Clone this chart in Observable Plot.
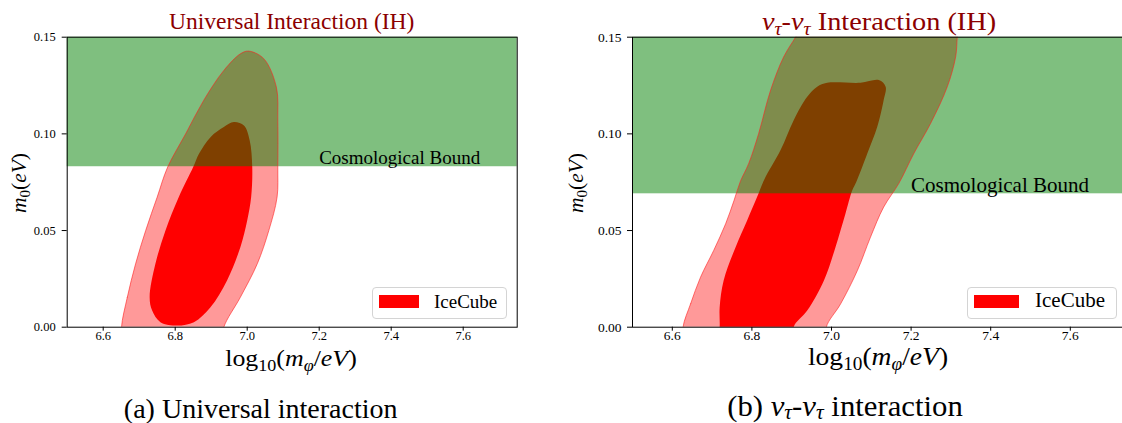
<!DOCTYPE html>
<html><head><meta charset="utf-8">
<script src="https://cdn.jsdelivr.net/npm/d3@7"></script>
<script src="https://cdn.jsdelivr.net/npm/@observablehq/plot@0.6"></script>
<style>
html,body{margin:0;padding:0;background:#fff;}
#wrap{position:relative;width:1122px;height:423px;overflow:hidden;font-family:"Liberation Serif",serif;color:#000;}
#wrap svg{position:absolute;top:0;max-width:none;}
.t{position:absolute;white-space:nowrap;line-height:1;}
.t sub{font-size:0.7em;vertical-align:-0.28em;line-height:0;}
.t.cap sub{vertical-align:-0.17em;}
.t i{font-style:italic;}
.leg{position:absolute;box-sizing:border-box;border:1px solid #d4d4d4;border-radius:4px;background:rgba(255,255,255,0.85);}
.patch{position:absolute;background:#ff0000;}
</style></head><body><div id="wrap"></div>
<script>
// ---- axes ----
const xDomain = [6.5, 7.75];
const yDomain = [0, 0.15];
const xTicks = [6.6, 6.8, 7.0, 7.2, 7.4, 7.6];
const yTicks = [0.00, 0.05, 0.10, 0.15];
// ---- cosmological bounds (m0 upper limit) ----
const boundUniversal = 0.083;
const boundTau = 0.069;
const boundLabel = "Cosmological Bound";
const boundLabelX = 7.2;
// ---- (a) Universal interaction: outer (light) region ----
const uniOuterX = [6.651, 6.667, 6.690, 6.718, 6.750, 6.779, 6.829, 6.879, 6.935, 6.981, 7.004, 7.046, 7.081, 7.085, 7.085, 7.083, 7.060, 7.028, 6.981, 6.935, 6.93, 6.655];
const uniOuterY = [0.000, 0.0155, 0.0328, 0.0500, 0.0673, 0.0828, 0.1000, 0.1173, 0.1328, 0.1414, 0.1428, 0.1389, 0.1242, 0.1069, 0.0828, 0.0673, 0.0500, 0.0328, 0.0155, 0.000, -0.008, -0.008];
// ---- (a) Universal interaction: inner (dark) region ----
const uniInnerX = [6.806, 6.759, 6.736, 6.729, 6.745, 6.773, 6.810, 6.850, 6.866, 6.898, 6.935, 6.963, 6.991, 7.007, 7.014, 7.011, 7.000, 6.981, 6.944, 6.898, 6.852];
const uniInnerY = [0.0009, 0.0026, 0.0086, 0.0155, 0.0328, 0.0500, 0.0673, 0.0828, 0.0897, 0.0983, 0.1035, 0.1061, 0.1043, 0.0966, 0.0828, 0.0673, 0.0552, 0.0414, 0.0242, 0.0103, 0.0026];
// ---- (b) nu_tau-nu_tau interaction: outer region ----
const tauOuterX = [6.627, 6.646, 6.671, 6.704, 6.734, 6.755, 6.771, 6.792, 6.817, 6.847, 6.880, 6.910, 6.93, 7.12, 7.32, 7.316, 7.312, 7.291, 7.249, 7.207, 7.169, 7.131, 7.098, 7.065, 7.023, 6.987, 6.99, 6.63];
const tauOuterY = [0.000, 0.0121, 0.0259, 0.0397, 0.0535, 0.0655, 0.0754, 0.0847, 0.1002, 0.1226, 0.1399, 0.1502, 0.158, 0.168, 0.158, 0.1502, 0.1399, 0.1244, 0.1054, 0.0899, 0.0743, 0.0621, 0.0466, 0.0293, 0.0121, 0.000, -0.008, -0.008];
// ---- (b) nu_tau-nu_tau interaction: inner region ----
const tauInnerX = [6.719, 6.719, 6.729, 6.759, 6.788, 6.813, 6.830, 6.872, 6.905, 6.939, 6.964, 6.989, 7.073, 7.119, 7.136, 7.131, 7.115, 7.090, 7.062, 7.052, 7.035, 7.010, 6.981, 6.939, 6.905, 6.91, 6.715];
const tauInnerY = [0.000, 0.0103, 0.0242, 0.0414, 0.0552, 0.0673, 0.0759, 0.0916, 0.1071, 0.1192, 0.1244, 0.1264, 0.1264, 0.1278, 0.1244, 0.1174, 0.1037, 0.0899, 0.0750, 0.0707, 0.0587, 0.0414, 0.0242, 0.0086, 0.000, -0.008, -0.008];
// ---- legend ----
const legendLabel = "IceCube";

const pts = (xs, ys) => xs.map((x, i) => ({x, y: ys[i]}));
const fx = d3.format(".1f"), fy = d3.format(".2f");
const SERIF = "Liberation Serif";

function panel({width, marginLeft, marginRight, outer, inner, bound, labelSize, labelDy, tickFont, ydx}) {
  const curve = "catmull-rom-closed";
  return Plot.plot({
    width, height: 423,
    marginTop: 36.7, marginBottom: 96.3, marginLeft, marginRight,
    x: {domain: xDomain, ticks: xTicks, tickFormat: () => "", label: null, tickSize: 4, tickPadding: 2},
    y: {domain: yDomain, ticks: yTicks, tickFormat: () => "", label: null, tickSize: 5, tickPadding: 2},
    style: {fontFamily: SERIF, fontSize: "12px", color: "black", background: "transparent", overflow: "visible"},
    marks: [
      Plot.line(outer, {x: "x", y: "y", curve, fill: "#ff9999", stroke: "none", clip: true}),
      Plot.line(inner, {x: "x", y: "y", curve, fill: "#ff0000", stroke: "none", clip: true}),
      Plot.rect([{x1: xDomain[0], x2: xDomain[1], y1: bound, y2: yDomain[1]}], {x1: "x1", x2: "x2", y1: "y1", y2: "y2", fill: "green", fillOpacity: 0.5}),
      Plot.line(outer, {x: "x", y: "y", curve, stroke: "#ff2020", strokeOpacity: 0.6, strokeWidth: 1, clip: true}),
      Plot.text([boundLabel], {x: boundLabelX, y: bound, text: d => d, textAnchor: "start", dy: labelDy, fontSize: labelSize, fontFamily: SERIF, fill: "black"}),
      // tick labels (serif, as in the reference)
      Plot.text(xTicks, {x: d => d, frameAnchor: "bottom", dy: 12.5, text: d => fx(d), fontSize: tickFont, fontFamily: SERIF, fill: "black"}),
      Plot.text(yTicks, {y: d => d, frameAnchor: "left", dx: ydx, textAnchor: "end", text: d => fy(d), fontSize: tickFont, fontFamily: SERIF, fill: "black"}),
      Plot.frame({stroke: "black", strokeWidth: 1})
    ]
  });
}

const wrap = document.getElementById("wrap");
const left = panel({width: 560, marginLeft: 66.7, marginRight: 43.3,
  outer: pts(uniOuterX, uniOuterY), inner: pts(uniInnerX, uniInnerY), bound: boundUniversal, labelSize: 19, labelDy: -9, tickFont: 12.5, ydx: -11.5});
left.style.left = "0px";
wrap.appendChild(left);
const right = panel({width: 600, marginLeft: 72, marginRight: 30.5,
  outer: pts(tauOuterX, tauOuterY), inner: pts(tauInnerX, tauInnerY), bound: boundTau, labelSize: 21, labelDy: -8.5, tickFont: 13.5, ydx: -11});
right.style.left = "560px";
wrap.appendChild(right);

function text(html, cx, baseline, size, color, sx, cls, lh) {
  const L = lh || 1;
  const d = document.createElement("div");
  d.className = "t" + (cls ? " " + cls : "");
  d.innerHTML = html;
  d.style.fontSize = size + "px";
  d.style.lineHeight = String(L);
  d.style.left = cx + "px";
  d.style.top = (baseline - (L / 2 + 0.3375) * size) + "px";
  d.style.transform = "translateX(-50%) scaleX(" + (sx || 1) + ")";
  if (color) d.style.color = color;
  wrap.appendChild(d);
  return d;
}
function ylabel(html, cx, cy, size) {
  const d = document.createElement("div");
  d.className = "t";
  d.innerHTML = html;
  d.style.fontSize = size + "px";
  d.style.left = cx + "px";
  d.style.top = cy + "px";
  d.style.transform = "translate(-50%,-50%) rotate(-90deg)";
  wrap.appendChild(d);
}
function legend(x0, x1, px0, px1, tx, size) {
  const b = document.createElement("div");
  b.className = "leg";
  Object.assign(b.style, {left: x0 + "px", top: "287px", width: (x1 - x0) + "px", height: "31.5px"});
  wrap.appendChild(b);
  const p = document.createElement("div");
  p.className = "patch";
  Object.assign(p.style, {left: px0 + "px", top: "295px", width: (px1 - px0) + "px", height: "12.5px"});
  wrap.appendChild(p);
  const t = document.createElement("div");
  t.className = "t";
  t.textContent = legendLabel;
  Object.assign(t.style, {fontSize: size + "px", left: tx + "px", top: (307.5 - 0.84 * size) + "px"});
  wrap.appendChild(t);
}

const nuTau = '<i>ν</i><sub><i>τ</i></sub>';
text("Universal Interaction (IH)", 291.7, 30, 23.5, "#8b0000");
text(nuTau + "-" + nuTau + " Interaction (IH)", 879, 30, 25.5, "#8b0000", 1.11);
const xl = 'log<sub>10</sub>(<i>m</i><sub><i>φ</i></sub>/<i>eV</i>)';
text(xl, 291, 366, 23.5, null, 1.1, null, 0.7);
text(xl, 878, 366, 25.5, null, 1.08, null, 0.7);
ylabel('<i>m</i><sub>0</sub>(<i>eV</i>)', 20, 183, 21.5);
ylabel('<i>m</i><sub>0</sub>(<i>eV</i>)', 577, 183, 21.5);
legend(371.5, 506.5, 378.6, 418.6, 434, 19);
legend(966.5, 1117, 974, 1019, 1035, 21);
text("(a) Universal interaction", 260.7, 418, 28, null, 1, "cap");
text("(b) " + nuTau + "-" + nuTau + " interaction", 845, 416.5, 29, null, 1.06, "cap");
</script></body></html>
